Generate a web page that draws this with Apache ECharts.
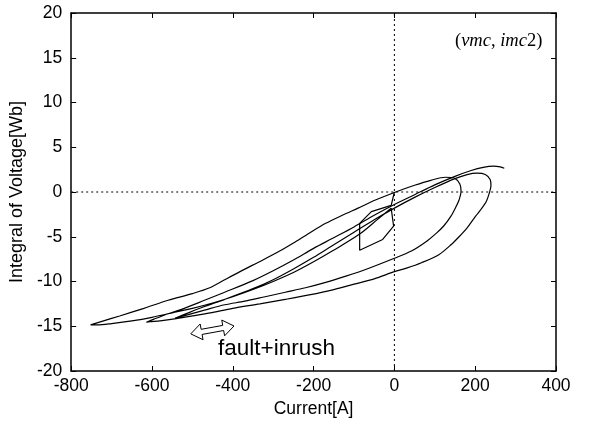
<!DOCTYPE html>
<html>
<head>
<meta charset="utf-8">
<script src="https://cdn.jsdelivr.net/npm/echarts@6/dist/echarts.min.js"></script>
<style>
html,body{margin:0;padding:0;background:#fff;}
#chart{width:592px;height:423px;}
</style>
</head>
<body>
<div id="chart"></div>
<script>
// ---- axis settings ----
const xMin = -800, xMax = 400, xStep = 200;
const yMin = -20, yMax = 20, yStep = 5;

// ---- trajectory pieces (Current[A], Integral of Voltage[Wb]) ----
const startWiggle = [[0,0],[-8,-1.5],[-57,-2.2],[-86,-3.5],[-86,-6.5],[-29,-5.3],[-2,-3.8],[-8,-1.8]];
const descentToTip1 = [[-8,-1.8],[-40,-3.0],[-86,-4.7],[-154,-6.6],[-200,-7.8],[-250,-9.0],[-300,-10.0],[-350,-10.9],[-400,-11.7],[-450,-12.4],[-500,-13.0],[-550,-13.5],[-600,-14.0],[-650,-14.4],[-700,-14.7],[-735,-14.85],[-752,-14.85]];
const loopA = [[-752,-14.85],[-720,-14.4],[-680,-13.85],[-620,-13.0],[-560,-12.1],[-500,-11.35],[-457,-10.7],[-420,-9.8],[-374,-8.7],[-330,-7.7],[-284,-6.6],[-250,-5.7],[-211,-4.6],[-170,-3.5],[-129,-2.6],[-90,-1.8],[-47,-0.9],[0,-0.05],[50,0.75],[90,1.3],[126,1.65],[150,1.5],[162,0.9],[165,0.1],[160,-0.9],[153,-1.6],[140,-2.7],[122,-3.8],[104,-4.6],[80,-5.5],[42,-6.6],[0,-7.4],[-68,-8.6],[-120,-9.4],[-170,-10.1],[-220,-10.7],[-270,-11.2],[-320,-11.7],[-370,-12.2],[-420,-12.6],[-470,-13.2],[-510,-13.7],[-543,-14.1]];
const loopB = [[-543,-14.1],[-510,-13.5],[-470,-12.8],[-420,-12.0],[-350,-10.8],[-300,-9.8],[-250,-8.6],[-200,-7.3],[-154,-6.0],[-100,-4.5],[-50,-3.1],[0,-1.8],[50,-0.6],[100,0.5],[150,1.5],[180,1.95],[205,2.1],[225,1.95],[237,1.4],[239,0.7],[235,-0.1],[228,-1.0],[215,-1.9],[201,-2.7],[180,-4.0],[160,-5.0],[140,-5.9],[110,-7.0],[67,-7.9],[30,-8.5],[0,-8.9],[-50,-9.7],[-100,-10.3],[-150,-10.9],[-211,-11.5],[-270,-12.0],[-333,-12.5],[-400,-13.0],[-456,-13.5],[-500,-13.85],[-540,-14.15],[-580,-14.4],[-605,-14.5],[-614,-14.55]];
const finalRise = [[-614,-14.55],[-595,-14.2],[-560,-13.6],[-520,-13.0],[-470,-12.1],[-420,-11.2],[-350,-9.9],[-300,-8.8],[-250,-7.6],[-200,-6.3],[-154,-5.2],[-100,-3.9],[-50,-2.6],[0,-1.4],[50,-0.3],[100,0.8],[150,1.75],[190,2.4],[220,2.75],[245,2.88],[262,2.8],[272,2.65]];

// ---- annotation anchors (data units) ----
const arrowFrom = [-504, -15.85];
const arrowTo = [-397, -14.97];

const smoothPath = descentToTip1.concat(loopA.slice(1), loopB.slice(1), finalRise.slice(1));

const chart = echarts.init(document.getElementById('chart'), null, {renderer:'canvas'});
const fontSans = 'Liberation Sans, Arial, sans-serif';
const axisCommon = {
  axisLine:{show:true, onZero:false, lineStyle:{color:'#000', width:1.5}},
  axisTick:{show:true, inside:true, length:5, lineStyle:{color:'#000', width:1}},
  splitLine:{show:false}
};
const option = {
  animation:false,
  backgroundColor:'#fff',
  grid:{left:66, right:36, top:13, bottom:52, containLabel:false},
  xAxis:[
    Object.assign({type:'value', min:xMin, max:xMax, interval:xStep, position:'bottom',
      name:'Current[A]', nameLocation:'middle', nameGap:29,
      nameTextStyle:{fontFamily:fontSans, fontSize:17.5, color:'#000'},
      axisLabel:{fontFamily:fontSans, fontSize:17.5, color:'#000', margin:6}}, axisCommon),
    Object.assign({type:'value', min:xMin, max:xMax, interval:xStep, position:'top',
      axisLabel:{show:false}}, axisCommon)
  ],
  yAxis:[
    Object.assign({type:'value', min:yMin, max:yMax, interval:yStep, position:'left',
      name:'Integral of Voltage[Wb]', nameLocation:'middle', nameGap:27,
      nameTextStyle:{fontFamily:fontSans, fontSize:18, color:'#000'},
      axisLabel:{fontFamily:fontSans, fontSize:17.5, color:'#000', margin:9, padding:[0,0,6,0]}}, axisCommon),
    Object.assign({type:'value', min:yMin, max:yMax, interval:yStep, position:'right',
      axisLabel:{show:false}}, axisCommon)
  ],
  series:[
    {
      type:'line', data:[[0,yMin],[0,yMax]], showSymbol:false, silent:true,
      lineStyle:{color:'#000', width:1, type:[2,3]}
    },
    {
      type:'line', data:[[xMin,0],[xMax,0]], showSymbol:false, silent:true,
      lineStyle:{color:'#000', width:1, type:[2,3]}
    },
    {
      type:'line', data:startWiggle, showSymbol:false, smooth:false,
      lineStyle:{color:'#000', width:1.2}
    },
    {
      type:'line', data:smoothPath, showSymbol:false, smooth:0.3,
      lineStyle:{color:'#000', width:1.2}
    },
    {
      type:'custom', data:[[arrowFrom[0], arrowFrom[1], arrowTo[0], arrowTo[1]]],
      encode:{x:[0,2], y:[1,3]},
      renderItem:function(params, api){
        const a = api.coord([api.value(0), api.value(1)]);
        const b = api.coord([api.value(2), api.value(3)]);
        const dx = b[0]-a[0], dy = b[1]-a[1];
        const L = Math.sqrt(dx*dx+dy*dy);
        const ux = dx/L, uy = dy/L, nx = -uy, ny = ux;
        const h = 11, w = 8, s = 2.6;
        const p = (base, t, k) => [base[0]+ux*t+nx*k, base[1]+uy*t+ny*k];
        const pts = [
          a, p(a,h,w), p(a,h,s), p(b,-h,s), p(b,-h,w), b,
          p(b,-h,-w), p(b,-h,-s), p(a,h,-s), p(a,h,-w)
        ];
        return {type:'polygon', shape:{points:pts}, style:{fill:'#fff', stroke:'#000', lineWidth:1}};
      }
    }
  ],
  graphic:[
    {
      type:'text', left:218, top:337,
      style:{text:'fault+inrush', font:'22.5px Liberation Sans, Arial, sans-serif', fill:'#000'}
    },
    {
      type:'text', left:455, top:32,
      style:{
        text:'{n|(}{i|vmc}{n|, }{i|imc}{n|2)}',
        rich:{
          n:{fontFamily:'Liberation Serif, Times New Roman, serif', fontSize:18.5, fill:'#000'},
          i:{fontFamily:'Liberation Serif, Times New Roman, serif', fontSize:18.5, fontStyle:'italic', fill:'#000'}
        }
      }
    }
  ]
};
chart.setOption(option);
</script>
</body>
</html>
